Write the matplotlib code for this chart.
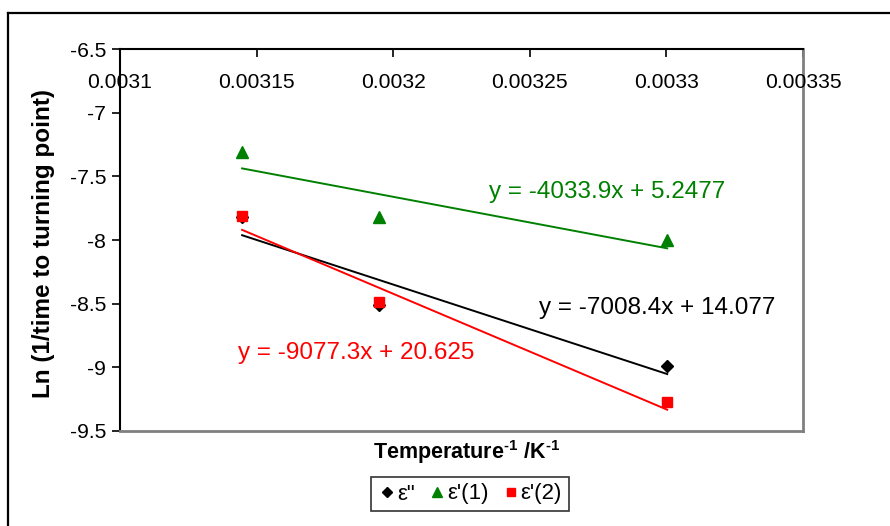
import matplotlib
matplotlib.use("Agg")
import matplotlib.pyplot as plt
from matplotlib.lines import Line2D
import matplotlib.transforms as mtransforms

plt.rcParams['font.family'] = ['Liberation Sans', 'DejaVu Sans']
plt.rcParams['mathtext.fontset'] = 'custom'
plt.rcParams['mathtext.rm'] = 'Liberation Sans:bold'
plt.rcParams['mathtext.default'] = 'rm'
plt.rcParams['axes.unicode_minus'] = False

# ---- data ----
inv_temp = [0.0031447, 0.0031949, 0.0033003]
eps_dd = [-7.82, -8.51, -8.99]
eps_1 = [-7.31, -7.82, -8.00]
eps_2 = [-7.81, -8.49, -9.27]
series_names = ['ε"', "ε'(1)", "ε'(2)"]
slopes = [-7008.4, -4033.9, -9077.3]
intercepts = ['14.077', '5.2477', '20.625']
x_ticks = [0.0031, 0.00315, 0.0032, 0.00325, 0.0033, 0.00335]
x_tick_labels = ['0.0031', '0.00315', '0.0032', '0.00325', '0.0033', '0.00335']
y_ticks = [-6.5, -7, -7.5, -8, -8.5, -9, -9.5]
y_tick_labels = ['-6.5', '-7', '-7.5', '-8', '-8.5', '-9', '-9.5']

W, H = 890, 526
fig = plt.figure(figsize=(W / 100, H / 100), dpi=100)

def px(x0, y0, x1, y1):
    return [x0 / W, 1 - y1 / H, (x1 - x0) / W, (y1 - y0) / H]

ax = fig.add_axes(px(120, 49, 803, 431))
ax.set_xlim(0.0031, 0.00335)
ax.set_ylim(-9.5, -6.5)

colors = ['black', '#008000', '#FF0000']
markers = ['D', '^', 's']
msizes = [6, 8, 7.5]
data = [eps_dd, eps_1, eps_2]
for yv, c, m, ms, name in zip(data, colors, markers, msizes, series_names):
    ax.plot(inv_temp, yv, linestyle='none', marker=m, color=c, markersize=ms,
            label=name, zorder=3, clip_on=False)

xs = [min(inv_temp), max(inv_temp)]
for s, b, c in zip(slopes, intercepts, colors):
    ax.plot(xs, [s * x + float(b) for x in xs], color=c, lw=1.4, zorder=2)

# equations
eq_pos = [(657, 308), (607, 192), (356, 353)]
for s, b, c, (xp, yp) in zip(slopes, intercepts, colors, eq_pos):
    fig.text(xp / W, 1 - yp / H, f"y = {s:.1f}x + {b}", color=c, fontsize=17.5,
             ha='center', va='center')

# spines
ax.spines['top'].set_color('black')
ax.spines['left'].set_color('black')
ax.spines['top'].set_linewidth(1.5)
ax.spines['left'].set_linewidth(1.5)
ax.spines['right'].set_color('#808080')
ax.spines['bottom'].set_color('#808080')
ax.spines['right'].set_linewidth(2)
ax.spines['bottom'].set_linewidth(2)

# x axis at top, ticks inward, labels below the axis line
ax.xaxis.set_ticks_position('top')
ax.set_xticks(x_ticks)
ax.tick_params(axis='x', direction='in', length=6, width=1.2, labeltop=False,
               labelbottom=False, color='black')
trans = mtransforms.blended_transform_factory(ax.transData, ax.transAxes)
for xv, lab in zip(x_ticks, x_tick_labels):
    ax.text(xv, 1 - 33 / 382, lab, transform=trans, ha='center', va='center',
            fontsize=15.2, clip_on=False)

ax.set_yticks(y_ticks)
ax.set_yticklabels(y_tick_labels, fontsize=15.2)
ax.tick_params(axis='y', direction='out', length=6, width=1.2, pad=4)

# axis titles
fig.text(44 / W, 1 - 244 / H, 'Ln (1/time to turning point)', rotation=90,
         fontsize=17.5, fontweight='bold', ha='center', va='center')
fig.text(467 / W, 1 - 452 / H, r'Temperature$^{\text{-1}}$ /K$^{\text{-1}}$',
         fontsize=15.5, fontweight='bold', ha='center', va='center')

# legend
leg = fig.legend(loc='center', bbox_to_anchor=(470 / W, 1 - 494 / H), ncol=3,
                 frameon=True, fancybox=False, fontsize=16, handletextpad=0.05,
                 columnspacing=0.6, handlelength=0.8, borderpad=0.3,
                 markerscale=0.85, handleheight=0.6)
leg.get_frame().set_edgecolor('black')
leg.get_frame().set_linewidth(1.2)

# outer chart border
fig.add_artist(Line2D([8 / W, 1], [1 - 13 / H, 1 - 13 / H], color='black', lw=1.6,
                      transform=fig.transFigure))
fig.add_artist(Line2D([8 / W, 8 / W], [0, 1 - 13 / H], color='black', lw=1.6,
                      transform=fig.transFigure))

fig.savefig('out.png', dpi=100)
